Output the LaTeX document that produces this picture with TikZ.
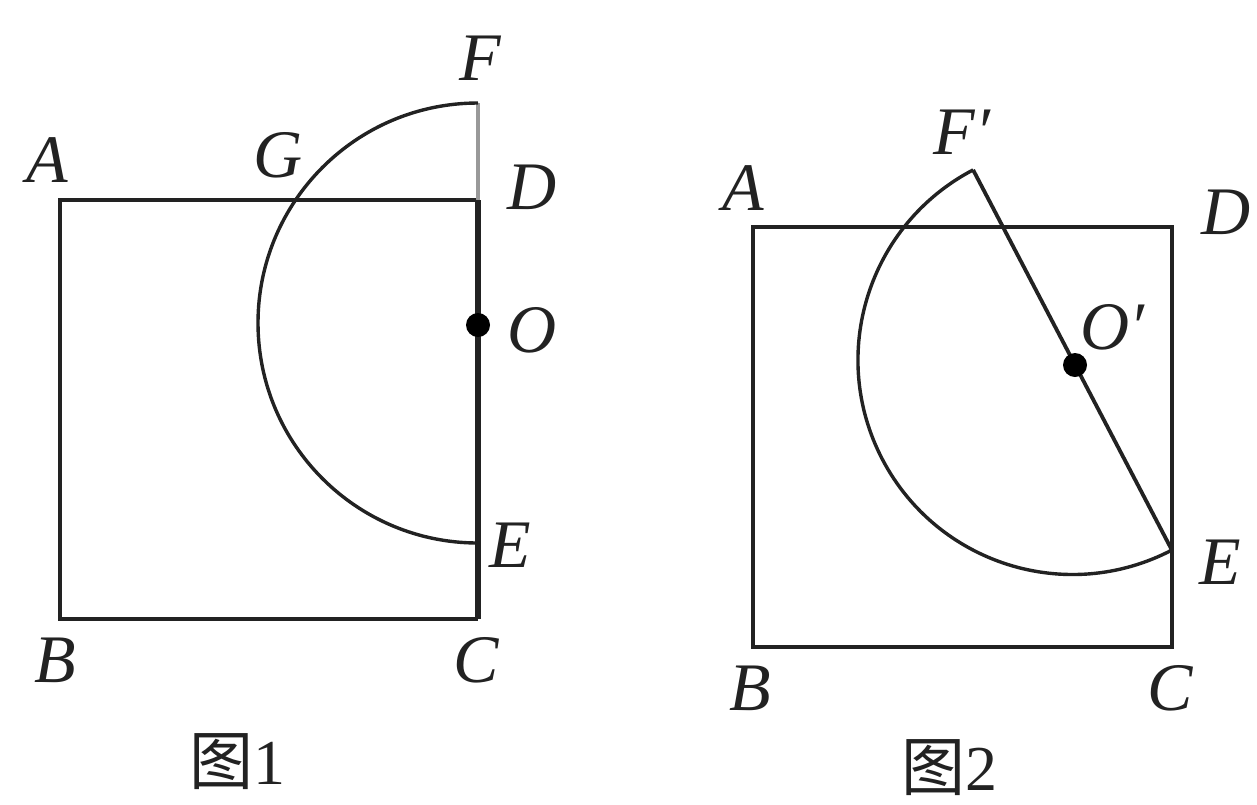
\documentclass[tikz,border=0pt]{standalone}
\usepackage{fontspec}
\setmainfont{Liberation Serif}
\newfontfamily\cjk{Noto Sans CJK SC}
\definecolor{ink}{HTML}{222222}
\begin{document}
\begin{tikzpicture}[x=1pt,y=1pt,
  lbl/.style={font=\fontsize{68}{68}\selectfont\itshape, inner sep=0pt, text=ink},
  figcap/.style={font=\fontsize{64}{64}\selectfont, inner sep=0pt, text=ink},
  sq/.style={draw=ink, line width=4.4pt, line join=miter},
  arcline/.style={draw=ink, line width=3.4pt},
  dot/.style={circle, fill=black, inner sep=0pt, minimum size=24pt}]
\useasboundingbox (0,0) rectangle (1257,-804);
% ---------- Figure 1 ----------
\coordinate (A1) at (60,-200);
\coordinate (B1) at (60,-619);
\coordinate (C1) at (478,-619);
\coordinate (D1) at (478,-200);
\coordinate (F1) at (478,-103);
\coordinate (E1) at (478,-543);
\draw[sq] (D1) -- (A1) -- (B1) -- (C1);
\draw[draw=ink, line width=5.4pt] (C1) -- (D1);
\draw[draw=gray!80, line width=4.4pt] (D1) -- (F1);
\draw[arcline] (F1) arc[start angle=90, end angle=270, radius=220pt];
\node[dot] (O1) at (478,-325) {};
\node[lbl] (lA1) at (47,-160) {A};
\node[lbl] (lB1) at (55,-660) {B};
\node[lbl] (lC1) at (476,-660) {C};
\node[lbl] (lD1) at (532,-187) {D};
\node[lbl] (lE1) at (510,-545) {E};
\node[lbl] (lF1) at (480,-58) {F};
\node[lbl] (lG1) at (278,-155) {G};
\node[lbl] (lO1) at (532,-330) {O};
\node[figcap] (cap1) at (237,-762) {{\cjk 图}1};
% ---------- Figure 2 ----------
\coordinate (A2) at (753,-227);
\coordinate (B2) at (753,-647);
\coordinate (C2) at (1172,-647);
\coordinate (D2) at (1172,-227);
\coordinate (F2) at (973.1,-169.9);
\coordinate (E2) at (1171.9,-550.1);
\draw[sq] (A2) -- (B2) -- (C2) -- (D2) -- cycle;
\draw[arcline] (F2) arc[start angle=117.6, end angle=297.6, radius=214.5pt];
\draw[draw=ink, line width=3.8pt, line join=miter] (E2) -- (F2);
\node[dot] (O2) at (1075,-365) {};
\node[lbl] (lA2) at (743,-188) {A};
\node[lbl] (lB2) at (750,-688) {B};
\node[lbl] (lC2) at (1170,-688) {C};
\node[lbl] (lD2) at (1226,-212) {D};
\node[lbl] (lE2) at (1220,-562) {E};
\node[lbl] (lF2) at (962,-132) {F′};
\node[lbl] (lO2) at (1112,-327) {O′};
\node[figcap] (cap2) at (949,-768) {{\cjk 图}2};
\end{tikzpicture}
\end{document}
